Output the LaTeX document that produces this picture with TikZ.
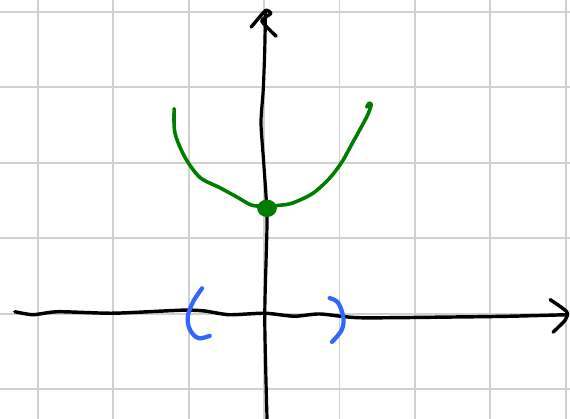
\documentclass[tikz,border=0pt]{standalone}
\definecolor{gridgray}{RGB}{208,208,208}
\definecolor{curvegreen}{RGB}{0,125,0}
\definecolor{parenblue}{RGB}{51,102,255}
\begin{document}
\begin{tikzpicture}[line cap = round, line join = round]
      \useasboundingbox (-3.497,-1.391) rectangle (4.053,4.159);
      \draw [gridgray, line width = .75pt] (-3.497,-1.391) grid (4.053,4.159);
      % axes, drawn by hand
      \draw [line width = 1.3pt] plot [smooth, tension = .4] coordinates
        {(-3.30,.03) (-3.06,-.01) (-2.73,.03) (-2,.01) (-1.09,.05) (-.79,.04)
         (-.46,-.01) (.01,.01) (.40,-.03) (.74,0) (1.27,-.05) (2.52,-.04)
         (3.25,-.03) (4.01,-.01)};
      \draw [line width = 1.3pt] plot [smooth, tension = .4] coordinates
        {(3.79,.19) (4.01,.03) (3.99,-.08) (3.83,-.24)};
      \draw [line width = 1.2pt] plot [smooth, tension = .4] coordinates
        {(.04,-1.39) (.01,-.04) (.04,1.25) (0,1.95) (-.04,2.53) (-.01,2.97)
         (.01,3.5) (.02,4.0)};
      \draw [line width = 1.3pt] plot [smooth, tension = .3] coordinates
        {(-.17,3.80) (.02,4.02) (.09,3.98) (-.03,3.88) (.16,3.68)};
      % parabola and its lowest point
      \draw [curvegreen, line width = 1.35pt] plot [smooth, tension = .5] coordinates
        {(-1.19,2.72) (-1.18,2.40) (-1.05,2.08) (-.85,1.81) (-.58,1.67)
         (-.36,1.55) (-.16,1.44) (.04,1.43) (.21,1.44) (.38,1.47) (.65,1.60)
         (.87,1.80) (1.03,2.01) (1.18,2.28) (1.36,2.61) (1.42,2.77)
         (1.39,2.79) (1.36,2.74)};
      \coordinate (vertex) at (.04,1.40);
      \fill [curvegreen] (vertex) ellipse (.13 and .115);
      % the interval
      \draw [parenblue, line width = 1.6pt] plot [smooth, tension = .6] coordinates
        {(-.82,.34) (-.94,.16) (-1.01,-.04) (-.98,-.21) (-.87,-.32) (-.72,-.29)};
      \draw [parenblue, line width = 1.6pt] plot [smooth, tension = .6] coordinates
        {(.87,.21) (.98,.15) (1.05,-.04) (1.03,-.21) (.90,-.37)};
    \end{tikzpicture}
\end{document}
